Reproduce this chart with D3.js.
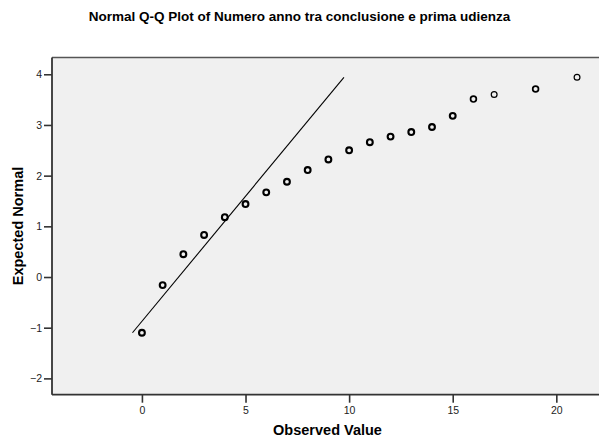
<!DOCTYPE html>
<html>
<head>
<meta charset="utf-8">
<script src="https://cdn.jsdelivr.net/npm/d3@7"></script>
<style>
  html, body { margin: 0; padding: 0; background: #fff; }
  svg { display: block; font-family: Arial, "Liberation Sans", Helvetica, sans-serif; }
</style>
</head>
<body>
<svg id="chart" width="599" height="438"></svg>
<script>
// Observed values (years) and their expected normal scores
const observed = [0, 1, 2, 3, 4, 5, 6, 7, 8, 9, 10, 11, 12, 13, 14, 15, 16, 17, 19, 21];
const expected = [-1.10, -0.16, 0.45, 0.83, 1.18, 1.44, 1.67, 1.88, 2.11, 2.32, 2.50, 2.66, 2.77, 2.86, 2.96, 3.18, 3.51, 3.60, 3.71, 3.94];
// Number of tied cases drawn on top of each other at each value
const cases = [3, 3, 3, 3, 3, 3, 3, 3, 3, 3, 3, 3, 3, 3, 3, 3, 2, 1, 2, 1];

// Reference line parameters (sample mean and standard deviation)
const sampleMean = 1.771;
const sampleSD = 2.025;

const xTicks = [0, 5, 10, 15, 20];
const yTicks = [-2, -1, 0, 1, 2, 3, 4];

const title = "Normal Q-Q Plot of Numero anno tra conclusione e prima udienza";
const xTitle = "Observed Value";
const yTitle = "Expected Normal";

const svg = d3.select("#chart");
const plot = { left: 52, right: 599, top: 57.5, bottom: 394.7 };

const x = d3.scaleLinear().domain([-4.34, 22.06]).range([plot.left, plot.right]);
const y = d3.scaleLinear().domain([-2.322, 4.331]).range([plot.bottom, plot.top]);

// Title
svg.append("text")
  .attr("x", 299.5).attr("y", 20.5)
  .attr("text-anchor", "middle")
  .attr("font-size", 13.5).attr("font-weight", "bold")
  .attr("fill", "#000")
  .text(title);

// Plot background
svg.append("rect")
  .attr("x", plot.left).attr("y", plot.top)
  .attr("width", plot.right - plot.left).attr("height", plot.bottom - plot.top)
  .attr("fill", "#f0f0f0");

// Frame top edge
svg.append("line")
  .attr("x1", plot.left).attr("x2", plot.right)
  .attr("y1", plot.top).attr("y2", plot.top)
  .attr("stroke", "#555").attr("stroke-width", 1.6);

// Axes
const fmt = d3.format("d");
const xAxis = d3.axisBottom(x).tickValues(xTicks).tickFormat(fmt).tickSize(8).tickPadding(4).tickSizeOuter(0);
const yAxis = d3.axisLeft(y).tickValues(yTicks).tickFormat(fmt).tickSize(8).tickPadding(2).tickSizeOuter(0);

const gx = svg.append("g").attr("transform", `translate(0,${plot.bottom})`).call(xAxis);
const gy = svg.append("g").attr("transform", `translate(${plot.left},0)`).call(yAxis);

[gx, gy].forEach(g => {
  g.select(".domain").attr("stroke", "#333").attr("stroke-width", 1.8);
  g.selectAll(".tick line").attr("stroke", "#333").attr("stroke-width", 1.6);
  g.selectAll(".tick text").attr("font-size", 10.5).attr("fill", "#222")
    .attr("font-family", "Arial, 'Liberation Sans', sans-serif");
});
gx.select(".domain").attr("d", `M${plot.left},0H${plot.right}`);
gy.select(".domain").attr("d", `M0,${plot.top}V${plot.bottom}`);

// Axis titles
svg.append("text")
  .attr("x", 327.5).attr("y", 434.5)
  .attr("text-anchor", "middle")
  .attr("font-size", 14.5).attr("font-weight", "bold")
  .text(xTitle);

svg.append("text")
  .attr("transform", `translate(22.5,226) rotate(-90)`)
  .attr("text-anchor", "middle")
  .attr("font-size", 14.5).attr("font-weight", "bold")
  .text(yTitle);

// Reference line: expected normal = (value - mean) / sd, over the range of expected scores
const yMin = d3.min(expected), yMax = d3.max(expected);
svg.append("line")
  .attr("x1", x(sampleMean + sampleSD * yMin)).attr("y1", y(yMin))
  .attr("x2", x(sampleMean + sampleSD * yMax)).attr("y2", y(yMax))
  .attr("stroke", "#000").attr("stroke-width", 1.1);

// Points (hollow circles; tied cases overplot into heavier rings)
const pts = observed.map((v, i) => ({ v, e: expected[i], n: cases[i] }));
const strokeFor = n => n >= 3 ? 2.1 : (n === 2 ? 1.7 : 1.2);
svg.append("g").selectAll("circle")
  .data(pts)
  .join("circle")
  .attr("cx", d => x(d.v))
  .attr("cy", d => y(d.e))
  .attr("r", 2.9)
  .attr("fill", "none")
  .attr("stroke", "#000")
  .attr("stroke-width", d => strokeFor(d.n));
</script>
</body>
</html>
